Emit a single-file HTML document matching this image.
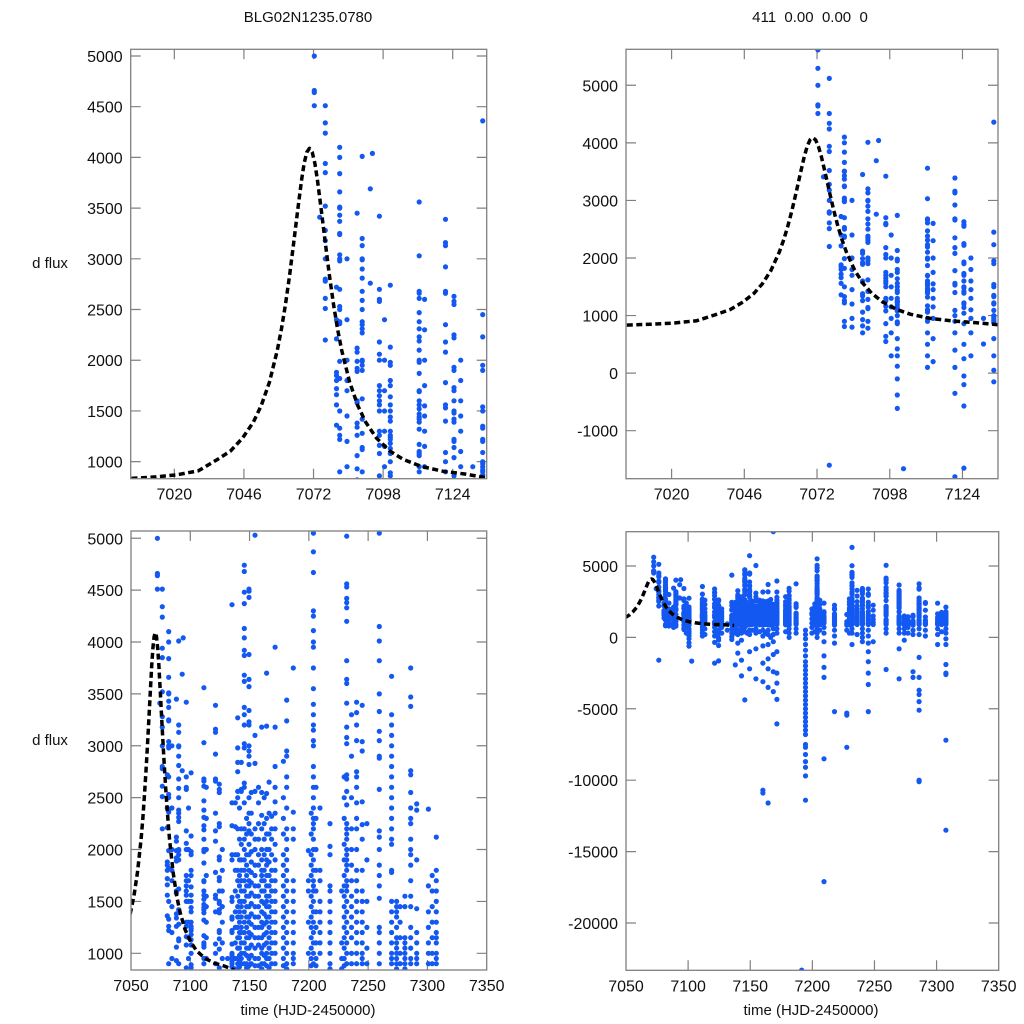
<!DOCTYPE html>
<html><head><meta charset="utf-8"><style>
html,body{margin:0;padding:0;background:#fff;width:1024px;height:1024px;overflow:hidden;}
svg{display:block;font-family:"Liberation Sans",Arial,sans-serif;}
</style></head><body>
<svg id="chart" width="1024" height="1024" viewBox="0 0 1024 1024" xmlns="http://www.w3.org/2000/svg">
<rect width="1024" height="1024" fill="#fff"/>
<text x="308" y="22" font-size="15" text-anchor="middle" fill="#111">BLG02N1235.0780</text>
<text x="810" y="22" font-size="15" text-anchor="middle" fill="#111" xml:space="preserve">411  0.00  0.00  0</text>
<text x="50" y="268" font-size="15" text-anchor="middle" fill="#111">d flux</text>
<text x="50" y="745" font-size="15" text-anchor="middle" fill="#111">d flux</text>
<text x="308" y="1015" font-size="15" text-anchor="middle" fill="#111">time (HJD-2450000)</text>
<text x="811" y="1015" font-size="15" text-anchor="middle" fill="#111">time (HJD-2450000)</text>
<g id="panels"></g>
</svg>
<script>
const xTicksZoom = [7020, 7046, 7072, 7098, 7124];
const xTicksFull = [7050, 7100, 7150, 7200, 7250, 7300, 7350];
const yTicksA = [1000, 1500, 2000, 2500, 3000, 3500, 4000, 4500, 5000];
const yTicksB = [-1000, 0, 1000, 2000, 3000, 4000, 5000];
const yTicksD = [-20000, -15000, -10000, -5000, 0, 5000];

const modelTimes = [7004,7013,7021,7029,7036,7041,7045.5,7049.5,7052.5,7055.5,7058.5,7060,7061.5,7063,7064.5,7066,7067.5,7068.5,7069.5,7070.5,7071.5,7072.5,7073.5,7075,7076.5,7078,7079.5,7081,7082.5,7085.5,7088.5,7091.5,7095.5,7100.5,7105.5,7112.5,7120.5,7128.5,7137];
const modelFlux = [835,850,870,910,1020,1105,1233,1389,1555,1783,2102,2306,2546,2823,3135,3464,3772,3940,4051,4090,4051,3940,3772,3464,3135,2823,2546,2306,2102,1783,1555,1389,1233,1105,1022,951,905,878,840];

const nightTimes = [7072.3,7074.3,7076.4,7080.6,7081.8,7088.3,7090.2,7093.2,7094.0,7096.6,7100.7,7102.9,7111.5,7121.3,7124.5,7131.5,7135.2,7138.0,7140.0,7143.0,7145.6,7149.5,7154.6,7160.2,7164.4,7168.6,7171.5,7181.3,7186.9,7191.4,7194.5,7199.6,7203.8,7209.4,7217.8,7227.7,7231.9,7240.3,7245.0,7259.4,7269.8,7274.0,7281.0,7285.9,7291.0,7300.8,7307.5,
7141.5,7147.5,7151.5,7157.5,7162.3,7166.5,7178.5,7202,7206,7229.8,7236,7249,7277,7304,7084.5,7098.5,7113.5,7127];
const nightFlux = [
[5614,5295,5000,4660,4640,4510],
[3410],
[5120,4510,4340,4240,3940,3850,3520,3280,3180,3000,2800,2780,2610,2510,2200,-1600],
[2720,2400,2210,1880,1850,1800,1720,1660,1560,1360],
[4100,4000,3840,3660,3510,3500,3430,3370,3250,3240,3040,3000,2980,2700,2530,2500,2380,2360,1990,1820,1500,1330,1260,1220,900,810],
[3450,2120,2080,1990,1920,1890,1600,1580,1380,1340,1260,1060,930,820,700],
[4010,3200,3130,3000,2990,2900,2810,2680,2590,2500,2380,2350,2310,2270,2000,1990,1950,1900,1620,1420,1280,1140,1120,900,780],
[3690,2760],
[4040],
[3420,2700,2600,2580,2180,2060,2000,1750,1700,1650,1600,1560,1500,1300,1260,1160,1080,860,640,550],
[2740,2130,1980,1950,1800,1750,1640,1560,1500,1440,1400,1300,1260,1240,1220,1180,1130,1080,1000,890,860,600,420,300,120,-100,-380,-612],
[-1660],
[3560,3030,2680,2660,2610,2470,2380,2310,2230,2190,2100,2000,1980,1870,1700,1690,1600,1560,1520,1470,1440,1420,1390,1320,1170,1100,1080,1060,950,900,700,500,300,100],
[3390,3160,3130,2920,2680,2660,2350,2180,2080,1780,1560,1530,1400,1090,1000,900,700,400,100,-350,-1800],
[2630,2580,2550,2250,2220,1930,1900,1730,1700,1600,1500,1480,1420,1390,1220,1200,1140,1040,860,500,250,-50,-200,-572,-1650],
[950,505],
[4360,2450,2230,1950,1900,1540,1500,1350,1330,1220,1200,1090,1000,980,950,920,900,870,600,300,50,-150],
[2450,2220,1950,1800,1600,1400,1250,1100,950,850,600,300,-1930],
[3270,2980,2840,2750,2560,2500,2200,1950,1800,1700,1550,1450,1350,1250,1150,1050,950,900,850,500,200,-400,-1100],
[2840,2580,2560,2200,2050,1900,1800,1700,1600,1500,1450,1350,1250,1200,1100,1000,950,900,600,300,-200,-1600,-2700],
[4740,4680,4480,4370,4130,4040,3920,3870,3680,3620,3370,3300,3200,3020,2980,2640,2600,2450,2200,2100,2000,1900,1800,1700,1600,1500,1400,1300,1200,1100,1000,900,700,400,-4380],
[5720,4510,4490,4430,3880,3640,3570,3340,3230,3200,3000,2950,2900,2820,2500,2350,2250,2180,2050,1950,1800,1700,1650,1550,1450,1350,1300,1200,1150,1050,950,880,500,200,-1000,-2200],
[5030,3100,2830,2560,2200,2100,2000,1850,1750,1650,1550,1450,1350,1250,1150,1050,950,880,600,300,-800,-2900],
[3180,2550,2330,2200,2000,1900,1800,1750,1700,1600,1500,1400,1300,1250,1150,1050,1000,900,850,500,100,-600,-1800,-3100,-10700,-10900],
[3700,3190,2540,2300,2150,2000,1900,1850,1750,1650,1550,1500,1450,1350,1300,1200,1100,1000,950,880,500,200,-500,-1500,-2200,-3500,-11600],
[7400,2320,2200,2100,1950,1800,1700,1600,1500,1400,1300,1200,1100,1000,900,600,200,-300,-1200,-2400,-3800],
[3950,3180,2800,2600,2460,2350,2200,2050,1900,1800,1700,1600,1500,1400,1300,1200,1100,1000,900,600,300,-1000,-2500,-3200,-4340,-6060],
[3440,3240,2950,2900,2700,2600,2400,2200,2100,2000,1900,1800,1700,1600,1500,1400,1300,1200,1100,1000,900,850,600,300,0],
[3750,2360,2200,2100,1700,1600,1500,1400,1300,1200,1100,1000,950,900,600,300],
[-23300],
[500,200,-100,-500,-900,-1300,-1700,-2000,-2300,-2600,-2900,-3200,-3500,-3800,-4100,-4400,-4700,-5000,-5300,-5600,-5900,-6200,-6500,-6800,-7500,-7700,-8200,-8700,-9100,-9700,-11400],
[1990,1700,1600,1300,1000,700,300],
[5500,5050,4870,4670,4300,4250,4110,4000,3950,3750,3550,3400,3300,3200,3150,3050,3000,2800,2700,2600,2500,2400,2300,2250,2200,2100,2000,1900,1800,1700,1650,1600,1500,1400,1300,1200,1100,1000,900,600,300,0],
[2400,1800,1700,1500,1400,1300,1200,1100,1000,700,300,-300,-1300,-2100,-2800,-8500,-17100],
[2250,2030,1950,1650,1600,1500,1400,1300,1200,1100,1000,900,850,500,100,-400,-5200],
[1600,1100,950,850,500,-5300,-5450,-7700],
[6300,5020,4560,4530,4420,4380,4330,4200,3820,3640,3600,3410,3180,3080,3020,2720,2680,2560,2430,2250,2200,2150,2100,2000,1950,1900,1850,1800,1700,1650,1600,1500,1400,1300,1200,1100,1000,900,600,300,-500],
[3420,3320,3200,3050,2750,2700,2600,2450,2300,2200,2000,1800,1700,1600,1500,1400,1300,1200,1100,1000,900,600,300,0,-300],
[3390,3040,2950,2460,2240,2100,1800,1600,1500,1400,1300,1200,1100,1000,950,900,500,100,-400,-1000,-1700,-2500,-3300,-5200],
[5050,4150,4010,3820,3500,3330,3140,3050,2900,2880,2580,2180,2120,2000,1850,1750,1650,1530,1250,1200,1100,1000,900,600,300,-2250],
[3670,3300,3200,3100,3000,2900,2800,2700,2600,2500,2400,2300,2200,2100,2050,1800,1780,1500,1400,1300,1200,1100,1000,950,900,600,300,-800,-2900],
[1500,1450,1400,1350,1250,1150,1100,1050,1000,950,900,850,600,300,-200],
[1550,1450,1150,1100,1050,1000,950,900,850,500,200,-2400,-2800],
[3750,3470,3380,2760,2720,2550,2400,2300,2250,2100,2000,1950,1850,1700,1550,1450,1250,1150,1050,950,900,600,200,-1400,-2800,-3700,-4000,-4500,-5100,-10000,-10100],
[2440,2380,1900,1430,1200,1100,1000,950,900,500,100],
[2390,1650,1400,1250,1100,1000,900,600,200,-500],
[2120,1800,1700,1600,1500,1400,1300,1200,1150,1100,1000,950,900,600,300,-100,-500,-1900,-2500,-2600,-7200,-13500],
[2400,2100,1900,1750,1650,1500,1400,1300,1200,1150,1050,980,920,870,400],
[2300,2150,1950,1850,1750,1650,1550,1450,1350,1250,1150,1050,980,900,860,300],
[2550,2350,2150,1980,1880,1780,1680,1580,1480,1380,1280,1180,1080,980,900,500],
[2600,2450,2250,2100,1950,1850,1650,1550,1450,1350,1250,1150,1080,950,880,400],
[2500,2250,2100,1950,1800,1700,1600,1480,1380,1280,1180,1080,980,900,300],
[2650,2350,2150,2000,1880,1750,1650,1550,1450,1350,1250,1150,1050,950,860,0],
[2850,2500,2300,2150,1950,1850,1750,1650,1550,1450,1350,1250,1150,1050,950,880,400],
[2350,2150,1950,1850,1750,1550,1450,1350,1250,1150,1050,950,880,400],
[2600,2300,2000,1800,1600,1400,1250,1100,950,880,500],
[2700,2500,2300,2050,1900,1750,1650,1550,1450,1350,1250,1150,1050,950,880,300],
[3300,2900,2500,2200,2000,1850,1700,1550,1450,1350,1250,1150,1000,900,200],
[2250,1900,1500,1250,1050,900,-300],
[1450,1300,1150,1000,900,700,300],
[1750,1600,1450,1300,1150,1000,900,400],
[3000,2400,2000,1800,1700,1450,1200,950,800],
[2400,2000,1700,1500,1300,1150,950,700,300],
[2600,2300,2000,1750,1550,1450,1300,1150,950,600,200],
[2000,1800,1600,1450,1300,1100,950,700,300]
];

const NS = 'http://www.w3.org/2000/svg';
const root = document.getElementById('panels');
function mk(tag, attrs, parent) {
  const e = document.createElementNS(NS, tag);
  for (const k in attrs) e.setAttribute(k, attrs[k]);
  parent.appendChild(e);
  return e;
}
const panels = [
  {id:'tl', px:[130.7,486.7], py:[49.3,478.7], xd:[7003.7,7136.7], yd:[832,5066], xt:xTicksZoom, yt:yTicksA},
  {id:'tr', px:[626,998], py:[49.3,478.7], xd:[7003.7,7136.7], yd:[-1834,5625], xt:xTicksZoom, yt:yTicksB},
  {id:'bl', px:[131,486.7], py:[531,970], xd:[7050,7350], yd:[839,5070], xt:xTicksFull, yt:yTicksA},
  {id:'br', px:[626,998.7], py:[531.7,970.3], xd:[7050,7350], yd:[-23312,7400], xt:xTicksFull, yt:yTicksD}
];
panels.forEach(p => {
  const sx = v => p.px[0] + (v - p.xd[0]) / (p.xd[1] - p.xd[0]) * (p.px[1] - p.px[0]);
  const sy = v => p.py[1] - (v - p.yd[0]) / (p.yd[1] - p.yd[0]) * (p.py[1] - p.py[0]);
  const g = mk('g', {}, root);
  
  
  const cp = mk('clipPath', {id:'clip-' + p.id}, g);
  mk('rect', {x:p.px[0], y:p.py[0], width:p.px[1]-p.px[0], height:p.py[1]-p.py[0]}, cp);
  p.xt.forEach(t => {
    const x = sx(t);
    if (x > p.px[0] + 1 && x < p.px[1] - 1) {
      const tk = mk('path', {d:`M${x},${p.py[1]}v-10M${x},${p.py[0]}v10`, stroke:'#808080', 'stroke-width':1.2, fill:'none'}, g);
      
      
    }
    const lb = mk('text', {x:x, y:p.py[1]+21, 'font-size':16, 'text-anchor':'middle', fill:'#111'}, g);
    
    
    lb.textContent = t;
  });
  p.yt.forEach(t => {
    const y = sy(t);
    const tk = mk('path', {d:`M${p.px[0]},${y}h10M${p.px[1]},${y}h-10`, stroke:'#808080', 'stroke-width':1.2, fill:'none'}, g);
    
    
    const lb = mk('text', {x:p.px[0]-8, y:y+6, 'font-size':16, 'text-anchor':'end', fill:'#111'}, g);
    
    
    lb.textContent = t;
  });
  const pg = mk('g', {'clip-path':'url(#clip-' + p.id + ')'}, g);
  
  
  nightTimes.forEach((t, i) => {
    nightFlux[i].forEach(v => {
      const c = mk('circle', {cx:sx(t).toFixed(1), cy:sy(v).toFixed(1), r:2.6, fill:'#1458f2'}, pg);
      
      
    });
  });
  const d = modelTimes.map((t, i) => (i ? 'L' : 'M') + sx(t).toFixed(1) + ',' + sy(modelFlux[i]).toFixed(1)).join('');
  const ln = mk('path', {d:d, stroke:'#000', 'stroke-width':3.5, 'stroke-dasharray':'6 3.5', fill:'none', 'clip-path':'url(#clip-' + p.id + ')', 'stroke-linejoin':'round'}, g);
  
  
  const fr = mk('rect', {x:p.px[0], y:p.py[0], width:p.px[1]-p.px[0], height:p.py[1]-p.py[0], fill:'none', stroke:'#808080', 'stroke-width':1.3}, g);
  
  
});
</script>
</body></html>
